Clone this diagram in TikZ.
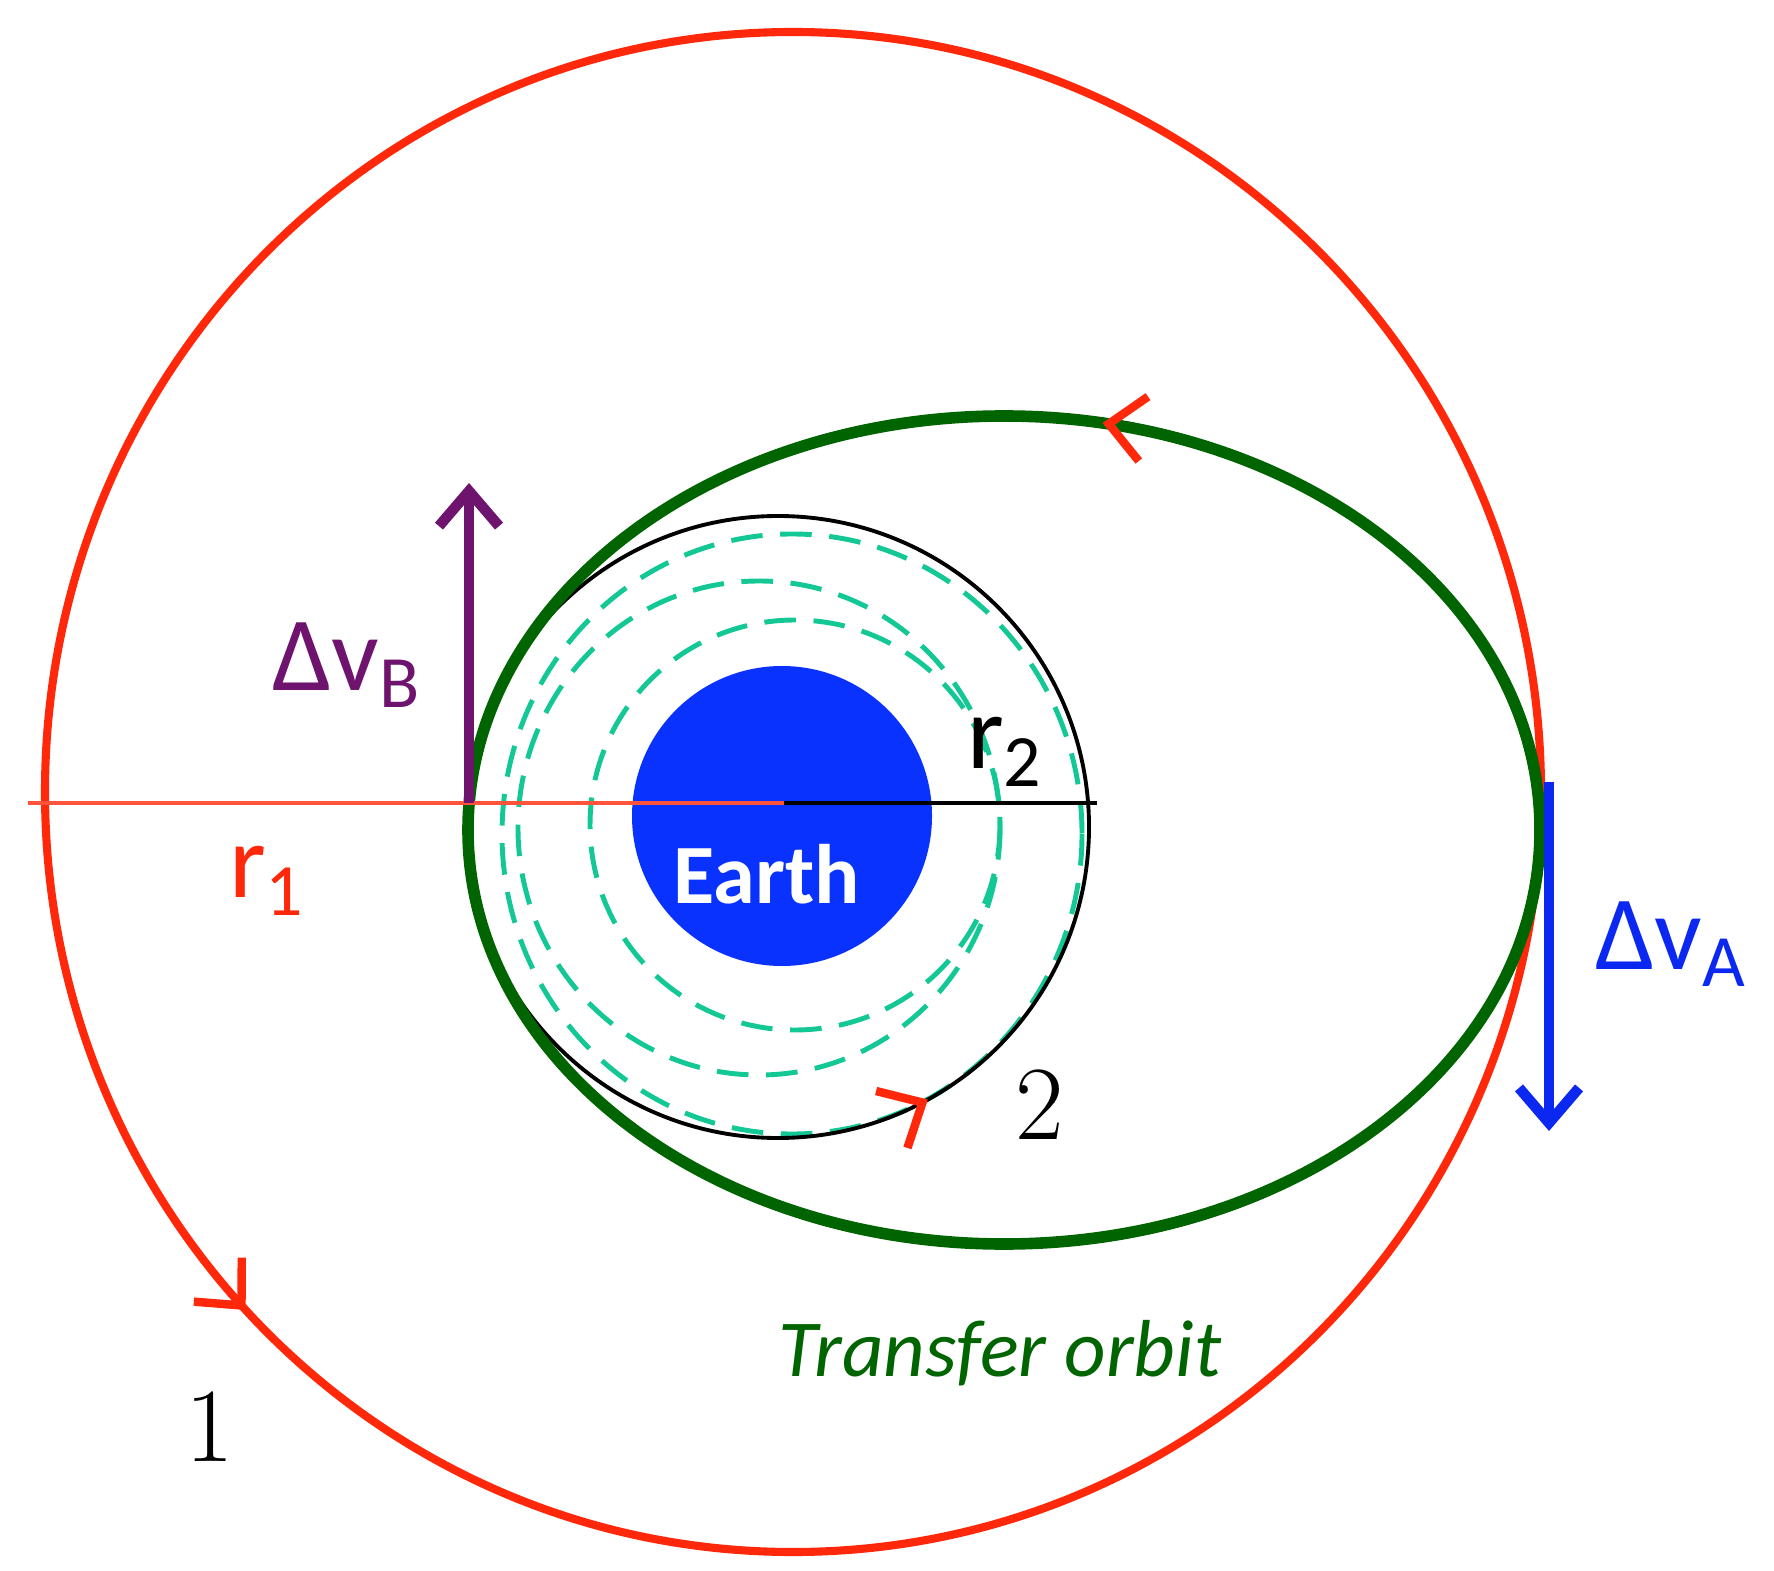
\documentclass[tikz,border=0pt]{standalone}
\usepackage{fontspec}
\setsansfont{Carlito}
\usetikzlibrary{arrows.meta,decorations.markings}
\definecolor{orbred}{RGB}{255,40,10}
\definecolor{orbgreen}{RGB}{0,100,0}
\definecolor{teal2}{RGB}{20,200,150}
\definecolor{earthblue}{RGB}{10,50,255}
\definecolor{purp}{RGB}{110,20,110}
\definecolor{vblue}{RGB}{10,40,240}
\tikzset{
  chev/.style={decoration={markings,mark=at position #1 with {\arrow[orbred,line width=2.4pt]{Straight Barb[length=0.35cm,width=0.65cm]}}},postaction=decorate},
  lbl/.style={font=\sffamily\fontsize{30}{36}\selectfont},
  num/.style={font=\rmfamily\fontsize{30}{36}\selectfont},
}
\begin{document}
\begin{tikzpicture}[x=0.01cm,y=-0.01cm]
\useasboundingbox (0,0) rectangle (1774,1571);
\draw[orbred,line width=2.3pt,chev=0.62] (793+748,792) arc[start angle=0,end angle=-360,x radius=748,y radius=760];
\fill[earthblue] (782,816) circle (150);
\node[font=\sffamily\bfseries\fontsize{24}{28}\selectfont,text=white] (earth) at (767,874) {Earth};
\draw[teal2,line width=1.4pt,dash pattern=on 9pt off 5pt] (792,834) ellipse (290 and 300);
\draw[teal2,line width=1.4pt,dash pattern=on 9pt off 5pt] (759,828) ellipse (241 and 247);
\draw[teal2,line width=1.4pt,dash pattern=on 9pt off 5pt] (795,825) circle (205);
\draw[black,line width=1.1pt,chev=0.83] (778+311,827) arc[start angle=0,end angle=-360,radius=311];
\draw[orbgreen,line width=3.3pt,chev=0.217] (1004+536,830) arc[start angle=0,end angle=-360,x radius=536,y radius=414];
\coordinate (L) at (28,803); \coordinate (C) at (784,803); \coordinate (R) at (1097,803);
\draw[orbred!80,line width=0.9pt] (L) -- (C);
\draw[black,line width=0.9pt] (C) -- (R);
\coordinate (b0) at (469,803); \coordinate (b1) at (469,483);
\draw[purp,line width=3pt,-{Straight Barb[length=0.35cm,width=0.6cm]}] (b0) -- (b1);
\coordinate (a0) at (1549,782); \coordinate (a1) at (1549,1131);
\draw[vblue,line width=3pt,-{Straight Barb[length=0.35cm,width=0.6cm]}] (a0) -- (a1);
\node[lbl,text=purp] (dvb) at (347,665) {Δv\textsubscript{B}};
\node[lbl,text=vblue] (dva) at (1671,944) {Δv\textsubscript{A}};
\node[lbl,text=orbred] (r1) at (267,881) {r\textsubscript{1}};
\node[lbl,text=black] (r2) at (1005,752) {r\textsubscript{2}};
\node[num] (n2) at (1040,1105) {2};
\node[num] (n1) at (210,1427) {1};
\node[font=\sffamily\itshape\fontsize{23}{28}\selectfont,text=orbgreen] (tr) at (1000,1353) {Transfer orbit};
\end{tikzpicture}
\end{document}
